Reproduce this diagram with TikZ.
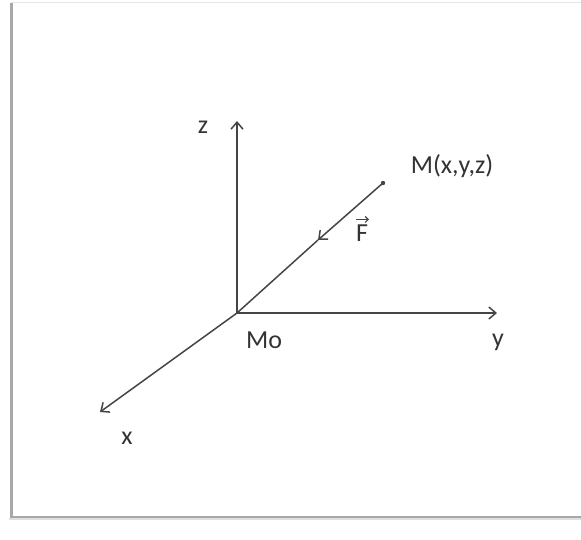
\documentclass[tikz,border=0pt]{standalone}
\usepackage{fontspec}
\setmainfont{Carlito}
\usetikzlibrary{arrows.meta}
\definecolor{axisGray}{HTML}{454545}
\definecolor{textGray}{HTML}{333333}
\definecolor{frameGray}{HTML}{A8A8A8}

\begin{document}
\begin{tikzpicture}[x=1pt, y=-1pt, color=axisGray, >={Straight Barb[length=7pt,width=12pt]},
    axis/.style={line width=1.5pt},
    lab/.style={text=textGray, font=\fontsize{26}{29}\selectfont, inner sep=0pt}]

    \useasboundingbox (0,0) rectangle (581,539);

    % frame with shadow
    \draw[gray!20, line width=1pt] (11,2) -- (581,2);
    \draw[frameGray, line width=3pt] (11,3) -- (11,517) -- (581,517);
    \draw[gray!25, line width=2pt] (9,519) -- (581,519);

    % points
    \coordinate (Mo) at (237,313);
    \coordinate (zend) at (237,121);
    \coordinate (yend) at (497,313);
    \coordinate (xend) at (100,412);
    \coordinate (M) at (383,183);
    \coordinate (Ftip) at (318,240);

    % axes
    \draw[axis, ->] (Mo) -- (zend);
    \draw[axis, ->] (Mo) -- (yend);
    \draw[axis, ->] (Mo) -- (xend);

    % force from M towards Mo
    \draw[axis, ->] (M) -- (Ftip);
    \draw[axis] (Ftip) -- (Mo);
    \fill (M) circle (2.2);

    % labels
    \node[lab] (zlab) at (203,127) {z};
    \node[lab] (ylab) at (498,342) {y};
    \node[lab] (xlab) at (127,438) {x};
    \node[lab] (Molab) at (264,340) {Mo};
    \node[lab] (Mlab) at (452,166) {M(x,y,z)};
    \node[lab] (Flab) at (362,233) {F};
    \draw[line width=1.2pt, -{Straight Barb[length=3pt,width=6pt]}]
        ([xshift=-6pt, yshift=5pt]Flab.north) -- ([xshift=7pt, yshift=5pt]Flab.north);

\end{tikzpicture}
\end{document}
